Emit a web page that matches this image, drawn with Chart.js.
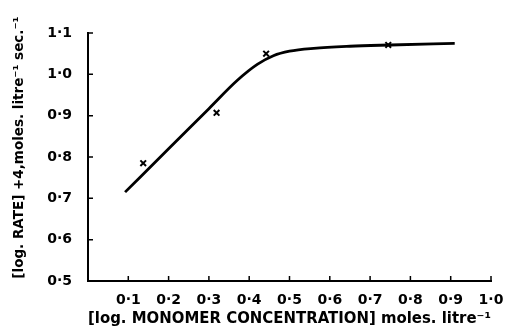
<!DOCTYPE html>
<html>
<head>
<meta charset="utf-8">
<script src="https://cdn.jsdelivr.net/npm/chart.js@4.4.1/dist/chart.umd.min.js"></script>
<style>
  html, body { margin: 0; padding: 0; background: #fff; }
  #wrap { width: 509px; height: 329px; }
</style>
</head>
<body>
<div id="wrap"><canvas id="grafico" width="509" height="329"></canvas></div>
<script>
// smooth fitted curve
const curvaX = [0.092, 0.2, 0.3, 0.37, 0.42, 0.46, 0.5, 0.56, 0.65, 0.75, 0.91];
const curvaY = [0.715, 0.82, 0.917, 0.985, 1.024, 1.045, 1.056, 1.063, 1.068, 1.071, 1.075];

// measured points (crosses)
const puntosX = [0.137, 0.319, 0.442, 0.745];
const puntosY = [0.785, 0.907, 1.050, 1.071];

// axis ticks
const ticksX = [0.1, 0.2, 0.3, 0.4, 0.5, 0.6, 0.7, 0.8, 0.9, 1.0];
const etiquetasX = ['0·1', '0·2', '0·3', '0·4', '0·5', '0·6', '0·7', '0·8', '0·9', '1·0'];
const ticksY = [0.5, 0.6, 0.7, 0.8, 0.9, 1.0, 1.1];
const etiquetasY = ['0·5', '0·6', '0·7', '0·8', '0·9', '1·0', '1·1'];

const fuente = "'DejaVu Sans', sans-serif";

// short tick marks pointing into the plot
const marcasInternas = {
    id: 'marcasInternas',
    afterDraw(chart) {
        const ctx = chart.ctx;
        const { x, y } = chart.scales;
        ctx.save();
        ctx.strokeStyle = '#000';
        ctx.lineWidth = 1.5;
        ctx.beginPath();
        ticksX.forEach(v => {
            const px = x.getPixelForValue(v);
            ctx.moveTo(px, y.bottom);
            ctx.lineTo(px, y.bottom - 5);
        });
        ticksY.forEach(v => {
            const py = y.getPixelForValue(v);
            ctx.moveTo(x.left, py);
            ctx.lineTo(x.left + 5, py);
        });
        ctx.stroke();
        ctx.restore();
    }
};

const ctx = document.getElementById('grafico').getContext('2d');
new Chart(ctx, {
    type: 'scatter',
    data: {
        datasets: [
            {
                label: 'curva',
                data: curvaX.map((v, i) => ({ x: v, y: curvaY[i] })),
                showLine: true,
                borderColor: '#000',
                borderWidth: 2.8,
                pointRadius: 0,
                cubicInterpolationMode: 'monotone',
                fill: false
            },
            {
                label: 'puntos',
                data: puntosX.map((v, i) => ({ x: v, y: puntosY[i] })),
                showLine: false,
                pointStyle: 'crossRot',
                pointRadius: 4,
                borderColor: '#000',
                borderWidth: 2
            }
        ]
    },
    options: {
        responsive: false,
        animation: false,
        layout: { padding: { top: 33, right: 18, left: 0, bottom: 0 } },
        plugins: {
            legend: { display: false },
            tooltip: { enabled: false }
        },
        scales: {
            x: {
                type: 'linear',
                min: 0,
                max: 1.0,
                afterBuildTicks: s => { s.ticks = ticksX.map(v => ({ value: v })); },
                afterFit: s => { s.height = 48; },
                grid: { display: false },
                border: { display: true, color: '#000', width: 2 },
                ticks: {
                    color: '#000',
                    padding: 3,
                    maxRotation: 0,
                    autoSkip: false,
                    font: { family: fuente, size: 14, weight: 'bold' },
                    callback: (v, i) => etiquetasX[i]
                },
                title: {
                    display: true,
                    text: '[log. MONOMER CONCENTRATION] moles. litre⁻¹',
                    color: '#000',
                    padding: { top: 0, bottom: 1 },
                    font: { family: fuente, size: 15.5, weight: 'bold' }
                }
            },
            y: {
                type: 'linear',
                min: 0.5,
                max: 1.1,
                afterBuildTicks: s => { s.ticks = ticksY.map(v => ({ value: v })); },
                afterFit: s => { s.width = 88; },
                grid: { display: false },
                border: { display: true, color: '#000', width: 2 },
                ticks: {
                    color: '#000',
                    padding: 8,
                    autoSkip: false,
                    font: { family: fuente, size: 14, weight: 'bold' },
                    callback: (v, i) => etiquetasY[i]
                },
                title: {
                    display: true,
                    // leading spaces lift the rotated title a little
                    text: '\u00a0\u00a0\u00a0\u00a0[log. RATE] +4,moles. litre⁻¹ sec.⁻¹',
                    color: '#000',
                    padding: { top: 11, bottom: 0 },
                    font: { family: fuente, size: 13.5, weight: 'bold' }
                }
            }
        }
    },
    plugins: [marcasInternas]
});
</script>
</body>
</html>
